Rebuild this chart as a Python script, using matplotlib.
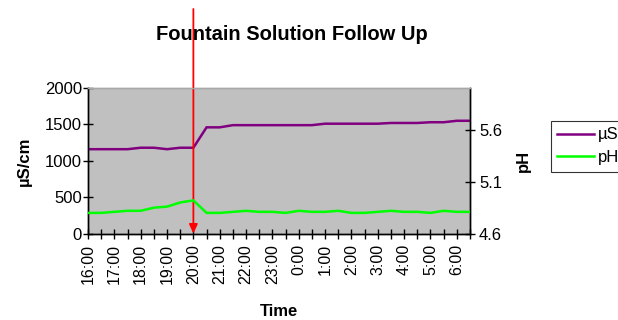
import matplotlib
matplotlib.use("Agg")
import matplotlib.pyplot as plt
from matplotlib.lines import Line2D

plt.rcParams['font.family'] = ['Liberation Sans', 'DejaVu Sans']

times = ["16:00", "16:30", "17:00", "17:30", "18:00", "18:30", "19:00", "19:30",
         "20:00", "20:30", "21:00", "21:30", "22:00", "22:30", "23:00", "23:30",
         "0:00", "0:30", "1:00", "1:30", "2:00", "2:30", "3:00", "3:30",
         "4:00", "4:30", "5:00", "5:30", "6:00", "6:30"]
conductivity = [1160, 1160, 1160, 1160, 1180, 1180, 1160, 1180,
                1180, 1460, 1460, 1490, 1490, 1490, 1490, 1490,
                1490, 1490, 1510, 1510, 1510, 1510, 1510, 1520,
                1520, 1520, 1530, 1530, 1550, 1550]
ph = [4.80, 4.80, 4.81, 4.82, 4.82, 4.85, 4.86, 4.90,
      4.92, 4.80, 4.80, 4.81, 4.82, 4.81, 4.81, 4.80,
      4.82, 4.81, 4.81, 4.82, 4.80, 4.80, 4.81, 4.82,
      4.81, 4.81, 4.80, 4.82, 4.81, 4.81]
event_time = "20:00"

W, H = 618, 320
fig = plt.figure(figsize=(W / 100, H / 100), dpi=100)
ax = fig.add_axes([88 / W, 1 - 233.7 / H, (470 - 88) / W, (233.7 - 88) / H])
ax.set_facecolor('#C0C0C0')
ax2 = ax.twinx()

x = list(range(len(times)))
purple = '#800080'
green = '#00FF00'
ax.plot(x, conductivity, color=purple, lw=1.8, solid_joinstyle='miter', zorder=3)
ax2.plot(x, ph, color=green, lw=1.8, solid_joinstyle='miter', zorder=3)

ax.set_xlim(0, len(times) - 1)
ax.set_ylim(0, 2000)
ax.set_yticks([0, 500, 1000, 1500, 2000])
ax2.set_ylim(4.6, 6.0)
ax2.set_yticks([4.6, 5.1, 5.6])
ax2.set_yticklabels(["4.6", "5.1", "5.6"])

ax.set_xticks(x)
ax.set_xticklabels([t if t.endswith(":00") else "" for t in times], rotation=90)

fs = 12
for a in (ax, ax2):
    a.tick_params(direction='inout', length=7, width=1, labelsize=fs, color='black')
    for s in a.spines.values():
        s.set_color('black')
        s.set_linewidth(1)
    a.spines['top'].set_color('#A8A8A8')
ax.tick_params(axis='x', pad=4, labelsize=11.5)
ax.tick_params(axis='y', pad=1)
ax2.tick_params(axis='y', pad=3)

ax.set_ylabel("µS/cm", fontsize=fs, fontweight='bold', labelpad=9)
ax2.set_ylabel("pH", fontsize=fs, fontweight='bold', labelpad=10)
ax.set_xlabel("Time", fontsize=fs, fontweight='bold', labelpad=14)

fig.text(291.7 / W, 1 - 35 / H, "Fountain Solution Follow Up", ha='center', va='center',
         fontsize=14.5, fontweight='bold')

# event marker: red arrow pointing down at the change
ev = times.index(event_time)
ax.annotate('', xy=(ev, 0), xycoords='data',
            xytext=(ev, 1 - 9 / H), textcoords=('data', 'figure fraction'),
            arrowprops=dict(arrowstyle='-|>,head_length=0.55,head_width=0.25',
                            color='#FF0000', lw=1.3, shrinkA=0, shrinkB=0),
            annotation_clip=False, zorder=5)

handles = [Line2D([], [], color=purple, lw=1.8), Line2D([], [], color=green, lw=1.8)]
leg = fig.legend(handles, ["µS", "pH"], loc='upper left',
                 bbox_to_anchor=(550.7 / W, 1 - 120.7 / H), fontsize=fs,
                 frameon=True, fancybox=False, handlelength=2.2, handletextpad=0.25,
                 borderpad=0.4, labelspacing=0.45, borderaxespad=0)
leg.get_frame().set_edgecolor('black')
leg.get_frame().set_linewidth(0.8)

fig.savefig("out.png", dpi=100)
